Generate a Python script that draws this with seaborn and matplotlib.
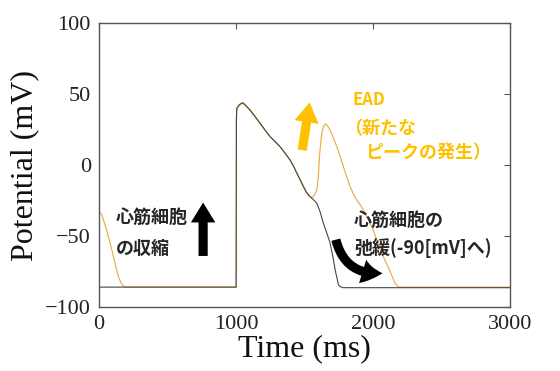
import matplotlib
matplotlib.use("Agg")
import matplotlib.pyplot as plt
from matplotlib.patches import FancyArrowPatch
import numpy as np
import pandas as pd
import seaborn as sns

# normal action potential (black)
t_normal = [0, 1000, 1002, 1005, 1015, 1030, 1049, 1070, 1102, 1140, 1175, 1210, 1248,
            1285, 1321, 1358, 1394, 1420, 1443, 1467, 1491, 1515, 1540, 1565, 1589,
            1613, 1637, 1662, 1686, 1705, 1723, 1737, 1747, 1762, 1783, 3000]
v_normal = [-86, -86, 34, 40, 41.5, 43, 43.9, 42, 38.7, 34, 29.4, 24.8, 20,
            16.5, 12.9, 8.3, 3.5, -1, -5.8, -10.5, -15.3, -19.5, -22.3, -24.5, -27,
            -33, -41, -48, -55, -64, -74, -80, -84.5, -85.8, -86.4, -86.4]

# action potential with EAD (orange)
t_ead = [0, 19, 43, 68, 86, 105, 123, 141, 160, 178, 200, 1000, 1002, 1005, 1015, 1030,
         1049, 1070, 1102, 1140, 1175, 1210, 1248, 1285, 1321, 1358, 1394, 1420, 1443,
         1467, 1491, 1504, 1520, 1535, 1552, 1570, 1589, 1600, 1608, 1617, 1625, 1637,
         1650, 1665, 1686, 1710, 1735, 1760, 1783, 1808, 1832, 1856, 1880, 1905, 1929,
         1953, 1978, 2003, 2027, 2051, 2075, 2100, 2124, 2143, 2161, 2185, 3000]
v_ead = [-33, -35, -42, -50.5, -57, -64.6, -72, -78.7, -83, -85.2, -86, -86, 31, 38, 41, 42.5,
         43.5, 41.5, 38.3, 33.5, 29, 24.5, 19.8, 16.3, 12.7, 8.1, 3.3, -1, -5.6,
         -10, -14.5, -17.6, -20.5, -22.2, -22.8, -21.5, -17.6, -8, 5.8, 15, 22.3, 27,
         28.9, 27.8, 24.6, 19, 12.9, 5.8, -1.2, -8.5, -15.3, -20.5, -24.6, -28, -31.7,
         -36, -41, -46.5, -52.8, -58.8, -64.6, -70, -75, -79.5, -83.3, -86, -86]

x_ticks = [0, 1000, 2000, 3000]
y_ticks = [-100, -50, 0, 50, 100]

sns.set_style("white")
plt.rcParams['font.family'] = ['Liberation Serif', 'DejaVu Serif']
cjk = ['Noto Sans CJK JP', 'DejaVu Sans']

fig = plt.figure(figsize=(5.6, 3.71), dpi=100)
ax = fig.add_axes([0.177, 0.1725, 0.734, 0.7655])

orange_line = '#EAAE45'
orange_txt = '#FFC000'

sns.lineplot(x=t_ead, y=v_ead, ax=ax, color=orange_line, lw=0.85, sort=False, estimator=None)
sns.lineplot(x=t_normal, y=v_normal, ax=ax, color='#444444', lw=0.8, sort=False, estimator=None)

ax.set_xlim(0, 3000)
ax.set_ylim(-100, 100)
ax.set_xticks(x_ticks)
ax.set_yticks(y_ticks)
ax.tick_params(direction='in', length=4, top=True, right=True, labelsize=16,
               colors='#222222', pad=6)
ax.tick_params(axis='both', which='both', color='#555555')
for s in ax.spines.values():
    s.set_color('#555555')
    s.set_linewidth(1)
ax.set_xlabel('Time (ms)', fontsize=23, labelpad=0, color='#111111')
ax.set_ylabel('Potential (mV)', fontsize=23, labelpad=4, color='#111111')

# annotations
fs = 13
ax.text(124, -36.6, '心筋細胞', family=cjk, fontsize=fs, fontweight='bold', va='center', ha='left')
ax.text(124, -58.5, 'の収縮', family=cjk, fontsize=fs, fontweight='bold', va='center', ha='left')
ax.text(1847, 45.8, 'EAD', family=cjk, fontsize=fs - 1, fontweight='bold', color=orange_txt,
        va='center', ha='left')
ax.text(1790, 25.4, '（新たな', family=cjk, fontsize=fs, fontweight='bold', color=orange_txt,
        va='center', ha='left')
ax.text(1942, 8.5, 'ピークの発生）', family=cjk, fontsize=fs, fontweight='bold', color=orange_txt,
        va='center', ha='left')
ax.text(1861, -38.7, '心筋細胞の', family=cjk, fontsize=fs, fontweight='bold', va='center', ha='left')
ax.text(1861, -58.5, '弛緩(-90[mV]へ)', family=cjk, fontsize=fs, fontweight='bold',
        va='center', ha='left')

style = 'simple,head_width=1.6,head_length=1.3,tail_width=0.6'
ax.add_patch(FancyArrowPatch((759, -66), (759, -24.5), arrowstyle=style,
                             mutation_scale=11, color='black', lw=0))
ax.add_patch(FancyArrowPatch((1479, 8.5), (1540, 46), arrowstyle=style,
                             mutation_scale=11, color=orange_txt, lw=0))
ax.add_patch(FancyArrowPatch((1723, -50.7), (2088, -76), arrowstyle=style,
                             connectionstyle='arc3,rad=0.45',
                             mutation_scale=11, color='black', lw=0))

plt.savefig('out.png', dpi=100)
